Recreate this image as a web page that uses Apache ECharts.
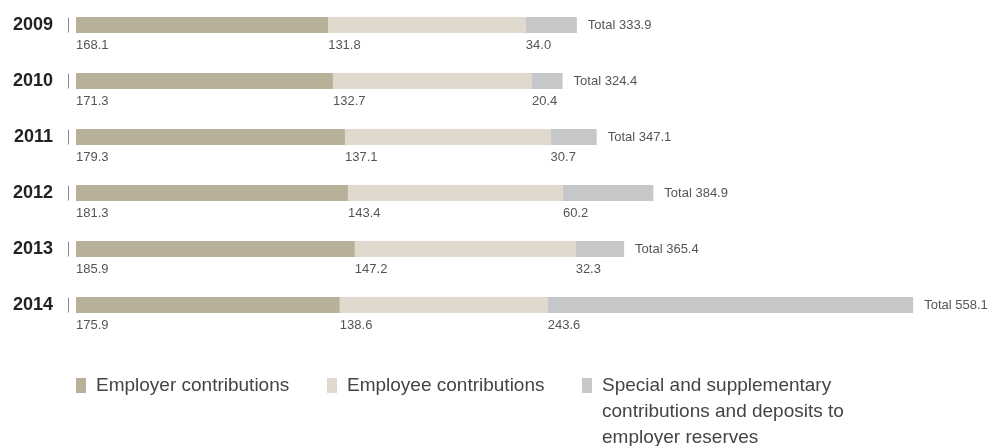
<!DOCTYPE html>
<html>
<head>
<meta charset="utf-8">
<script src="https://cdn.jsdelivr.net/npm/echarts@6/dist/echarts.min.js"></script>
<style>
  html, body { margin: 0; padding: 0; background: #fff; }
  #chart { width: 988px; height: 446px; }
</style>
</head>
<body>
<div id="chart"></div>
<script>
// Pension contributions by year (stacked horizontal bars)
const years = ['2009', '2010', '2011', '2012', '2013', '2014'];
const employer = [168.1, 171.3, 179.3, 181.3, 185.9, 175.9];
const employee = [131.8, 132.7, 137.1, 143.4, 147.2, 138.6];
const special = [34.0, 20.4, 30.7, 60.2, 32.3, 243.6];
const totals = [333.9, 324.4, 347.1, 384.9, 365.4, 558.1];

const seriesNames = [
  'Employer contributions',
  'Employee contributions',
  'Special and supplementary contributions and deposits to employer reserves'
];
const colors = ['#b8b098', '#dfd9ce', '#c6c7c9'];

const FONT = '"Liberation Sans", Arial, Helvetica, sans-serif';

const segmentLabel = {
  show: true,
  position: [0, 28],
  align: 'left',
  verticalAlign: 'middle',
  fontFamily: FONT,
  fontSize: 13,
  color: '#555',
  formatter: p => p.value.toFixed(1)
};

function barSeries(name, data, color) {
  return {
    name: name,
    type: 'bar',
    stack: 'total',
    data: data,
    barWidth: 16,
    itemStyle: { color: color },
    label: segmentLabel,
    emphasis: { disabled: true },
    silent: true
  };
}

const legendText = {
  fontFamily: FONT,
  fontSize: 19,
  color: '#444',
  lineHeight: 26,
  padding: [0, 0, 0, 5]
};

function legendFor(idx, left, top, formatter) {
  const l = {
    data: [seriesNames[idx]],
    left: left,
    top: top,
    padding: 0,
    icon: 'rect',
    itemWidth: 10,
    itemHeight: 15,
    selectedMode: false,
    textStyle: legendText
  };
  if (formatter) l.formatter = formatter;
  return l;
}

const chart = echarts.init(document.getElementById('chart'), null, { renderer: 'canvas' });

chart.setOption({
  animation: false,
  backgroundColor: '#fff',
  grid: { left: 76, right: 12, top: -3, height: 336, containLabel: false, outerBoundsMode: 'none' },
  xAxis: {
    type: 'value',
    min: 0,
    max: 600,
    show: false
  },
  yAxis: {
    type: 'category',
    data: years,
    inverse: true,
    axisLine: { show: false },
    axisTick: { show: false },
    splitLine: { show: false },
    axisLabel: {
      margin: 7,
      formatter: v => '{y|' + v + '}{s| }',
      rich: {
        y: { fontFamily: FONT, fontSize: 18, fontWeight: 'bold', color: '#222', padding: [0, 15, 0, 0] },
        s: { width: 1, height: 15, backgroundColor: '#8a8a8a' }
      }
    }
  },
  legend: [
    legendFor(0, 76, 372.5),
    legendFor(1, 327, 372.5),
    // two leading blank lines keep the first text line level with the swatch
    legendFor(2, 582, 320.5, () => '\n\nSpecial and supplementary\ncontributions and deposits to\nemployer reserves')
  ],
  series: [
    barSeries(seriesNames[0], employer, colors[0]),
    barSeries(seriesNames[1], employee, colors[1]),
    barSeries(seriesNames[2], special, colors[2]),
    {
      name: 'Total',
      type: 'scatter',
      data: totals.map((t, i) => [t, years[i]]),
      symbolSize: 0,
      silent: true,
      itemStyle: { opacity: 1 },
      label: {
        show: true,
        position: 'right',
        distance: 11,
        fontFamily: FONT,
        fontSize: 13,
        color: '#555',
        formatter: p => 'Total ' + totals[p.dataIndex].toFixed(1)
      }
    }
  ]
});
</script>
</body>
</html>
